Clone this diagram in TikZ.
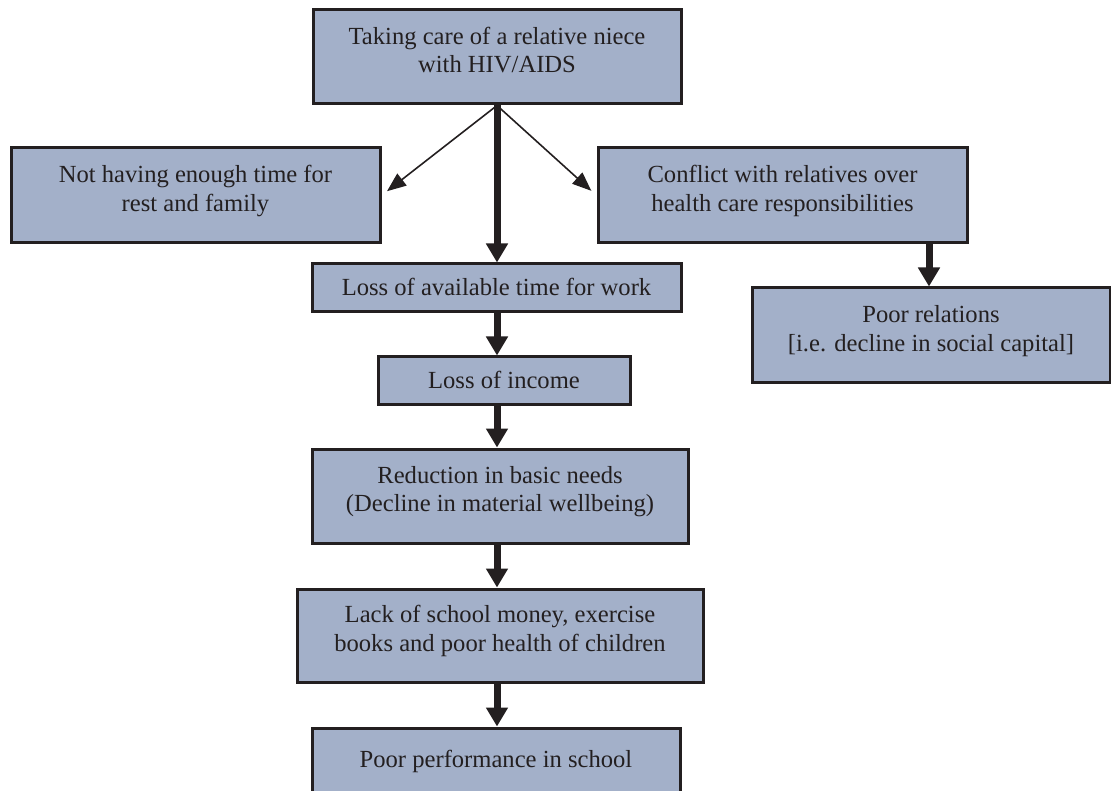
\documentclass[tikz,border=0pt]{standalone}
\usepackage{fontspec}
\setmainfont{Liberation Serif}
\usetikzlibrary{arrows.meta}
\definecolor{boxfill}{HTML}{A3B0C9}
\definecolor{ink}{HTML}{231F20}
\begin{document}
\begin{tikzpicture}[x=1pt,y=-1pt,
  box/.style={draw=ink, line width=3pt, fill=boxfill, text=ink, align=center,
    inner sep=0pt, font=\fontsize{24.6}{28.5}\selectfont},
  oneline/.style={text height=21pt, text depth=6pt},
  twoline/.style={text depth=14pt},
  bigarrow/.style={draw=ink, line width=7pt,
    -{Triangle[width=21pt,length=19pt]}},
  thinarrow/.style={draw=ink, line width=1.6pt,
    -{Triangle[width=15pt,length=19pt]}, shorten >=7pt}]
\useasboundingbox (0,0) rectangle (1111,791);
\coordinate (col) at (497,0);
% main column of consequences
\node[box, twoline, minimum width=368pt, minimum height=94pt] (care) at (497,57)
  {Taking care of a relative niece\\with HIV/AIDS};
\node[box, oneline, minimum width=369pt, minimum height=48pt] (work) at (496.5,288)
  {Loss of available time for work};
\node[box, oneline, minimum width=252pt, minimum height=48pt] (income) at (504,381)
  {Loss of income};
\node[box, twoline, minimum width=376pt, minimum height=94pt] (needs) at (500,496)
  {Reduction in basic needs\\(Decline in material wellbeing)};
\node[box, twoline, minimum width=406pt, minimum height=93pt] (school) at (500,635.5)
  {Lack of school money, exercise\\books and poor health of children};
\node[box, oneline, minimum width=368pt, minimum height=64pt] (perf) at (496,760)
  {Poor performance in school};
% side branches
\node[box, twoline, minimum width=369pt, minimum height=95pt] (rest) at (195.5,195.5)
  {Not having enough time for\\rest and family};
\node[box, twoline, minimum width=369pt, minimum height=95pt] (conflict) at (782.5,195.5)
  {Conflict with relatives over\\health care responsibilities};
\node[box, twoline, minimum width=358pt, minimum height=95pt] (relations) at (931,335.5)
  {Poor relations\\ {[i.e. decline in social capital]}};
% connectors
\coordinate (fork) at (col |- care.south);
\draw[thinarrow] (fork) -- (rest.east);
\draw[thinarrow] (fork) -- (conflict.west);
\draw[bigarrow] (fork) -- (col |- work.north);
\draw[bigarrow] (col |- work.south) -- (col |- income.north);
\draw[bigarrow] (col |- income.south) -- (col |- needs.north);
\draw[bigarrow] (col |- needs.south) -- (col |- school.north);
\draw[bigarrow] (col |- school.south) -- (col |- perf.north);
\coordinate (rcol) at (929,0);
\draw[bigarrow] (rcol |- conflict.south) -- (rcol |- relations.north);
\end{tikzpicture}
\end{document}
